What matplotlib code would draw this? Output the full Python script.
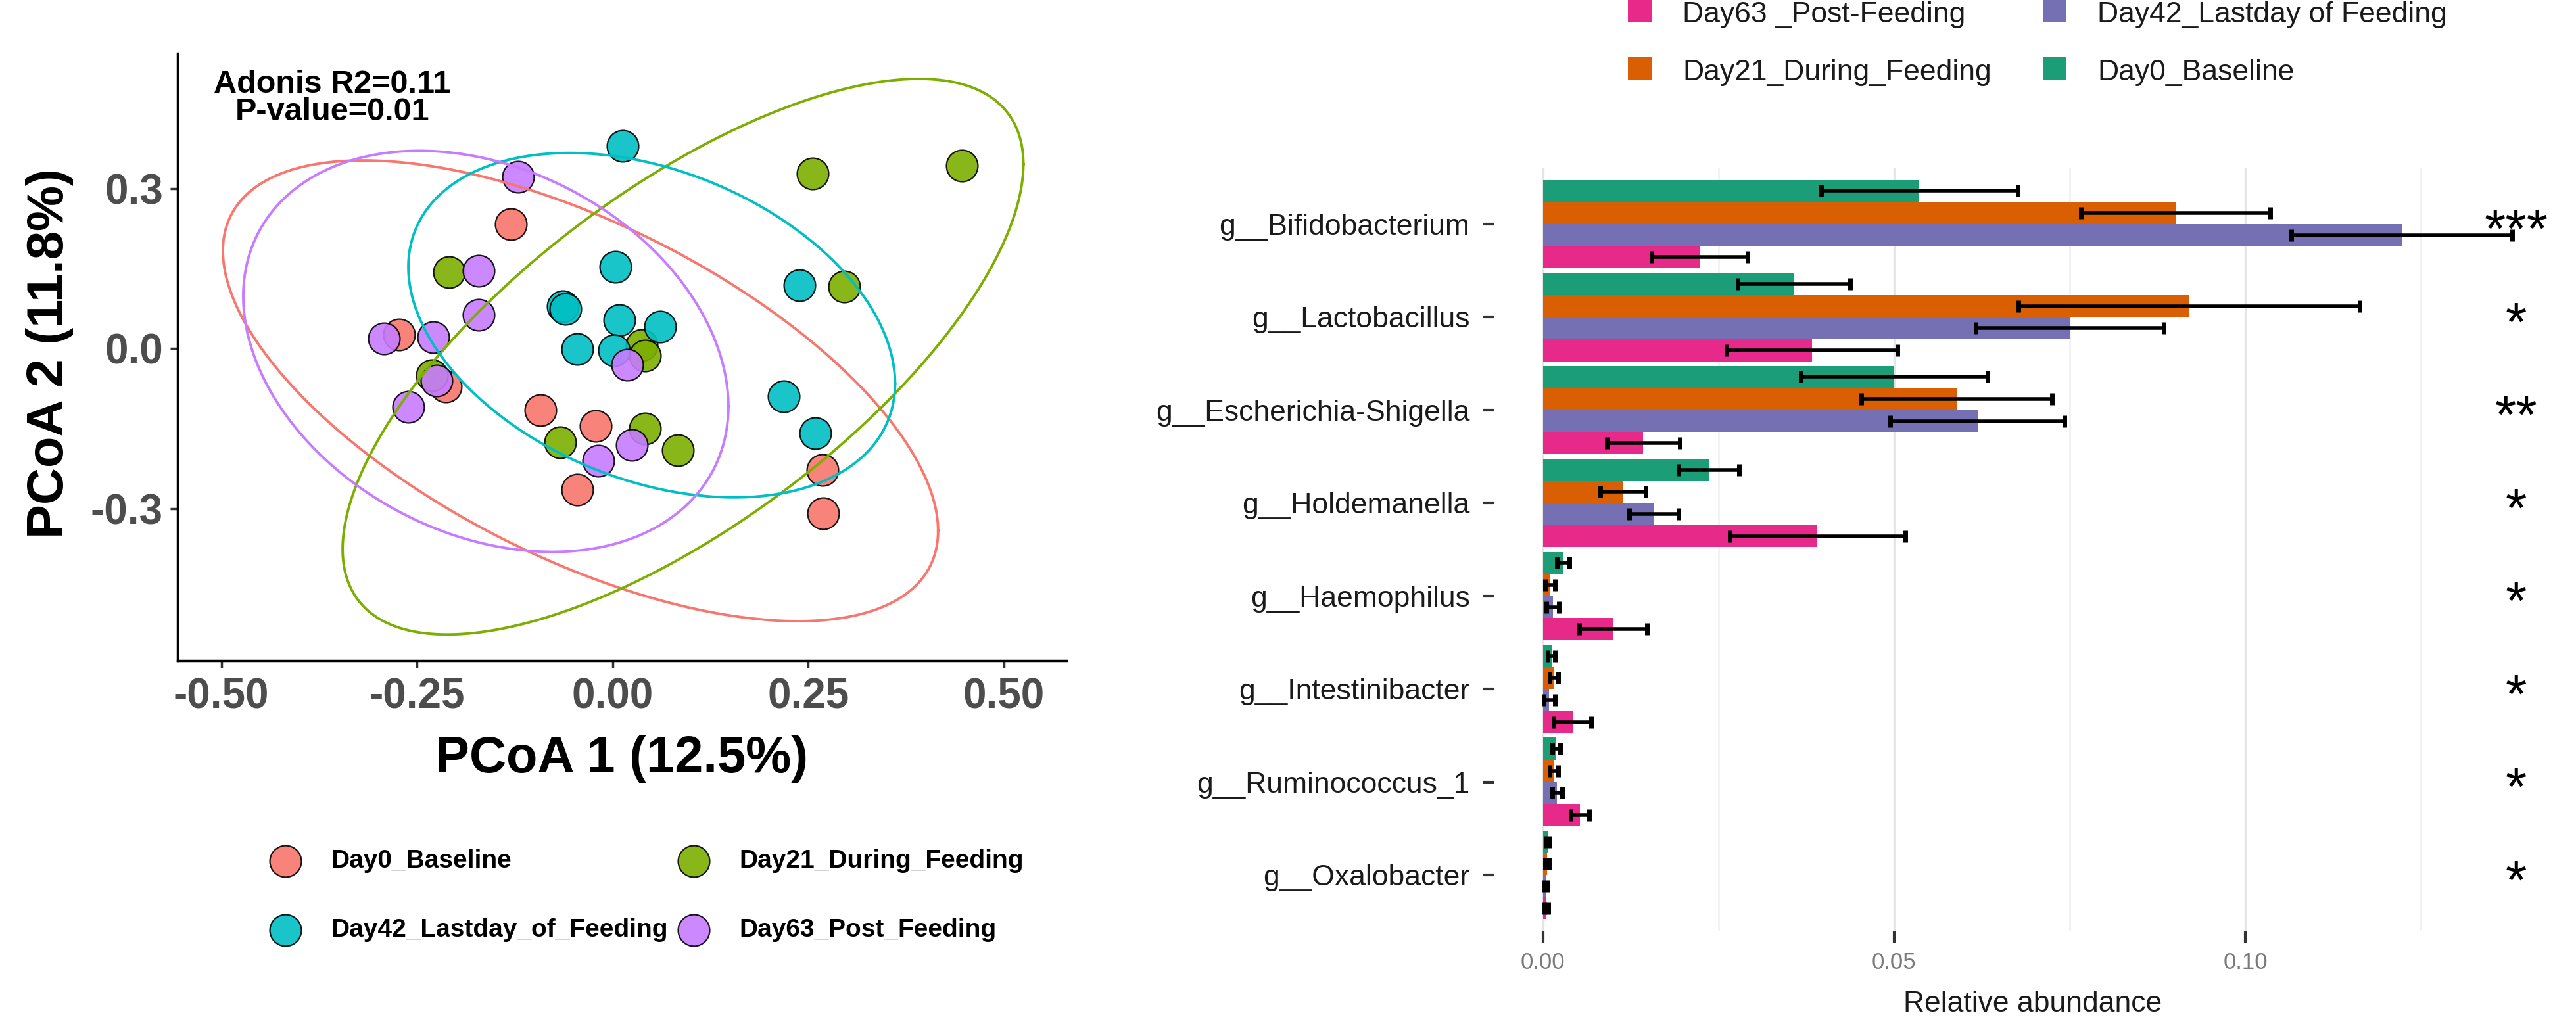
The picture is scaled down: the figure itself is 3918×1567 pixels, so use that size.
import numpy as np
import matplotlib.pyplot as plt
from matplotlib.patches import Rectangle
from matplotlib.lines import Line2D

plt.rcParams['font.family'] = ['Liberation Sans', 'DejaVu Sans']

# ---------------- PCoA data ----------------
groups = ['Day0_Baseline', 'Day21_During_Feeding', 'Day42_Lastday_of_Feeding', 'Day63_Post_Feeding']
group_colors = ['#F8766D', '#7CAE00', '#00BFC4', '#C77CFF']

pc1_day0 = [-0.130, -0.273, -0.213, -0.092, -0.022, -0.045, 0.268, 0.269]
pc2_day0 = [0.234, 0.026, -0.071, -0.115, -0.145, -0.264, -0.228, -0.309]
pc1_day21 = [0.256, 0.446, -0.209, 0.296, 0.037, 0.041, -0.231, -0.067, 0.041, 0.083]
pc2_day21 = [0.329, 0.343, 0.144, 0.117, 0.007, -0.013, -0.050, -0.176, -0.150, -0.191]
pc1_day42 = [0.013, 0.004, -0.064, -0.060, 0.009, 0.061, -0.045, 0.002, 0.239, 0.219, 0.259]
pc2_day42 = [0.380, 0.153, 0.080, 0.075, 0.054, 0.041, -0.001, -0.003, 0.119, -0.089, -0.159]
pc1_day63 = [-0.121, -0.171, -0.171, -0.292, -0.229, -0.225, -0.261, 0.019, 0.025, -0.018]
pc2_day63 = [0.322, 0.146, 0.064, 0.019, 0.022, -0.060, -0.109, -0.030, -0.181, -0.210]

# 95% ellipses: centre, spread along x / y and covariance term
ell_cx = [-0.041, 0.090, 0.050, -0.162]
ell_cy = [-0.079, -0.015, 0.044, -0.005]
ell_sx = [0.457, 0.435, 0.311, 0.310]
ell_sy = [0.432, 0.521, 0.323, 0.376]
ell_sxy = [-0.120, 0.157, -0.034, -0.032]

# ---------------- relative abundance data ----------------
genera = ['g__Bifidobacterium', 'g__Lactobacillus', 'g__Escherichia-Shigella', 'g__Holdemanella',
          'g__Haemophilus', 'g__Intestinibacter', 'g__Ruminococcus_1', 'g__Oxalobacter']
day0_mean = [0.0536, 0.0357, 0.0500, 0.0236, 0.0029, 0.0012, 0.0019, 0.0007]
day0_se = [0.0140, 0.0080, 0.0133, 0.0043, 0.0009, 0.0005, 0.0006, 0.0003]
day21_mean = [0.0901, 0.0920, 0.0589, 0.0114, 0.0010, 0.0016, 0.0016, 0.0006]
day21_se = [0.0135, 0.0243, 0.0136, 0.0032, 0.0007, 0.0006, 0.0006, 0.0003]
day42_mean = [0.1223, 0.0750, 0.0619, 0.0158, 0.0014, 0.0009, 0.0020, 0.0004]
day42_se = [0.0157, 0.0134, 0.0124, 0.0035, 0.0009, 0.0008, 0.0007, 0.0003]
day63_mean = [0.0223, 0.0383, 0.0143, 0.0391, 0.0100, 0.0042, 0.0053, 0.0005]
day63_se = [0.0068, 0.0122, 0.0052, 0.0125, 0.0048, 0.0027, 0.0013, 0.0003]
signif = ['***', '*', '**', '*', '*', '*', '*', '*']

bar_labels = ['Day0_Baseline', 'Day21_During_Feeding', 'Day42_Lastday of Feeding', 'Day63 _Post-Feeding']
bar_colors = ['#1B9E77', '#D95F02', '#7570B3', '#E7298A']

W, H = 3918, 1567
fig = plt.figure(figsize=(W / 100, H / 100), dpi=100)


def fx(px):
    return px / W


def fy(py):
    return 1 - py / H


# ================= left: PCoA =================
ax1 = fig.add_axes([fx(270), fy(1005), fx(1622) - fx(270), fy(81) - fy(1005)])
pcx = [pc1_day0, pc1_day21, pc1_day42, pc1_day63]
pcy = [pc2_day0, pc2_day21, pc2_day42, pc2_day63]
for k in range(4):
    ax1.scatter(pcx[k], pcy[k], s=1190, color=group_colors[k], edgecolor='black',
                linewidth=1.6, alpha=0.9, zorder=3)

t = np.linspace(0, 2 * np.pi, 300)
for k in range(4):
    cov = np.array([[ell_sx[k] ** 2, ell_sxy[k]], [ell_sxy[k], ell_sy[k] ** 2]])
    L = np.linalg.cholesky(cov)
    pts = L @ np.vstack([np.cos(t), np.sin(t)])
    ax1.plot(ell_cx[k] + pts[0], ell_cy[k] + pts[1], color=group_colors[k], lw=2.8, zorder=4)

ax1.set_xlim(-0.556, 0.580)
ax1.set_ylim(-0.585, 0.554)
ax1.set_xticks([-0.5, -0.25, 0, 0.25, 0.5])
ax1.set_xticklabels(['-0.50', '-0.25', '0.00', '0.25', '0.50'])
ax1.set_yticks([-0.3, 0, 0.3])
ax1.set_yticklabels(['-0.3', '0.0', '0.3'])
for s in ['top', 'right']:
    ax1.spines[s].set_visible(False)
for s in ['left', 'bottom']:
    ax1.spines[s].set_linewidth(2.5)
ax1.tick_params(axis='both', length=8, width=2.5, color='#333333', labelsize=46,
                labelcolor='#4D4D4D')
ax1.tick_params(axis='x', pad=10)
ax1.tick_params(axis='y', pad=8)
for lab in ax1.get_xticklabels() + ax1.get_yticklabels():
    lab.set_fontweight('bold')

ax1.set_xlabel('PCoA 1 (12.5%)', fontsize=56, fontweight='bold', va='center')
ax1.xaxis.set_label_coords(0.5, -0.162)
ax1.set_ylabel('PCoA 2 (11.8%)', fontsize=56, fontweight='bold', va='center')
ax1.yaxis.set_label_coords(-0.144, 0.506)

ax1.text(-0.358, 0.496, 'Adonis R2=0.11', fontsize=35, fontweight='bold', ha='center', va='center')
ax1.text(-0.358, 0.444, 'P-value=0.01', fontsize=35, fontweight='bold', ha='center', va='center')

# legend under the PCoA
leg1_x = [434, 1055]
leg1_y = [1310, 1415]
for k in range(4):
    r, c = divmod(k, 2)
    fig.add_artist(Line2D([fx(leg1_x[c])], [fy(leg1_y[r])], transform=fig.transFigure,
                          marker='o', markersize=34.5, markerfacecolor=group_colors[k],
                          markeredgecolor='black', markeredgewidth=1.6, alpha=0.9, linestyle=''))
    fig.text(fx(leg1_x[c] + 69), fy(leg1_y[r]), groups[k], fontsize=28, fontweight='bold',
             ha='left', va='center')

# ================= right: bars =================
ax2 = fig.add_axes([fx(2273), fy(1416), fx(3901) - fx(2273), fy(256) - fy(1416)])
means = [day0_mean, day21_mean, day42_mean, day63_mean]
errs = [day0_se, day21_se, day42_se, day63_se]
h = 0.95 / 4
ypos = np.arange(len(genera))
for j in range(4):
    ax2.barh(ypos + (j - 1.5) * h, means[j], height=h, color=bar_colors[j], zorder=2,
             xerr=errs[j], error_kw=dict(ecolor='black', elinewidth=4, capsize=6.5,
                                         capthick=5, zorder=3))

for i, s in enumerate(signif):
    ax2.text(0.1386, ypos[i] + 0.1, s, fontsize=60, ha='center', va='center', color='black')

ax2.set_xlim(-0.0069, 0.1455)
ax2.set_ylim(7.6, -0.6)
ax2.set_xticks([0, 0.05, 0.10])
ax2.set_xticklabels(['0.00', '0.05', '0.10'])
ax2.set_xticks([0.025, 0.075, 0.125], minor=True)
ax2.grid(axis='x', which='major', color='#E5E5E5', lw=2.4, zorder=0)
ax2.grid(axis='x', which='minor', color='#EEEEEE', lw=1.8, zorder=0)
ax2.set_axisbelow(True)
ax2.set_yticks(ypos)
ax2.set_yticklabels(genera)
for s in ax2.spines.values():
    s.set_visible(False)
ax2.tick_params(axis='y', length=13, width=3, color='#333333', labelsize=32,
                labelcolor='#1A1A1A', pad=14)
ax2.tick_params(axis='x', which='major', length=13, width=3, color='#333333', labelsize=25,
                labelcolor='#7A7A7A', pad=10)
ax2.tick_params(axis='x', which='minor', length=0)
ax2.set_xlabel('Relative abundance', fontsize=32, color='#1A1A1A', va='center')
ax2.xaxis.set_label_coords(0.503, -0.0957)

# legend above the bars
leg2_order = [3, 2, 1, 0]
leg2_x = [2476, 3107]
leg2_base = [34, 122]
sq = 36
for n, k in enumerate(leg2_order):
    r, c = divmod(n, 2)
    fig.add_artist(Rectangle((fx(leg2_x[c]), fy(leg2_base[r])), sq / W, sq / H,
                             transform=fig.transFigure, facecolor=bar_colors[k], edgecolor='none'))
    fig.text(fx(leg2_x[c] + 83), fy(leg2_base[r]), bar_labels[k], fontsize=32,
             ha='left', va='baseline', color='#1A1A1A')

fig.savefig('out.png', dpi=100, facecolor='white')
